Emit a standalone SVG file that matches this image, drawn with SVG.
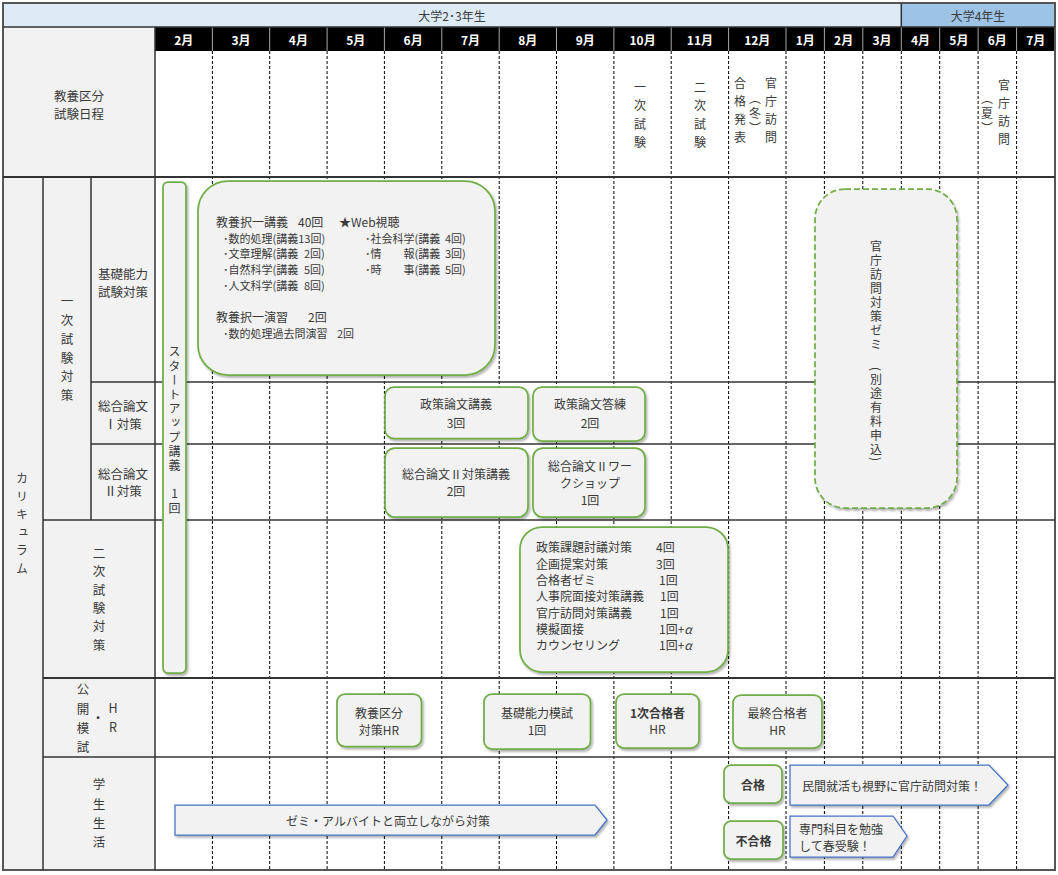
<svg xmlns="http://www.w3.org/2000/svg" width="1058" height="875" viewBox="0 0 1058 875">
<style>
.t{font-family:"Noto Sans CJK JP","Noto Sans",sans-serif;fill:#3a3a3a;dominant-baseline:central;font-size:12px}
.c{text-anchor:middle}
.v{writing-mode:vertical-rl;text-anchor:middle}
.up{text-orientation:upright}
.lab{font-size:12.5px}
.mon{fill:#fff;font-weight:bold;font-size:12px;text-anchor:middle}
.b{font-weight:bold}
.box{fill:#F2F2F2;stroke:#70AD47;stroke-width:1.75;filter:url(#sh)}
.boxd{fill:#F2F2F2;stroke:#70AD47;stroke-width:1.75;stroke-dasharray:6 3;filter:url(#sh)}
.arr{fill:#F2F2F2;stroke:#4472C4;stroke-width:1.25;filter:url(#sh)}
.dash{stroke:#000;stroke-width:1;stroke-dasharray:3 2}
.ln{stroke:#333;stroke-width:1.5;fill:none}
.hsep{stroke:#A6A6A6;stroke-width:1}
.sm{font-size:11px}
</style>
<defs>
<filter id="sh" x="-10%" y="-10%" width="130%" height="130%">
<feDropShadow dx="1.5" dy="2" stdDeviation="1.2" flood-color="#000" flood-opacity="0.3"/>
</filter>
</defs>
<rect width="1058" height="875" fill="#fff"/>
<g id="grid">
<rect x="3" y="3" width="898.3" height="24" fill="#DDEBF7"/>
<rect x="901.3" y="3" width="153.7" height="24" fill="#9DC3E6"/>
<rect x="155" y="27" width="900" height="24" fill="#000"/>
<rect x="3" y="27" width="152" height="150" fill="#F2F2F2"/>
<rect x="3" y="177" width="152" height="693" fill="#F2F2F2"/>
<g class="hsep">
<line x1="212.4" y1="27" x2="212.4" y2="51"/><line x1="269.7" y1="27" x2="269.7" y2="51"/><line x1="327.1" y1="27" x2="327.1" y2="51"/><line x1="384.4" y1="27" x2="384.4" y2="51"/><line x1="441.8" y1="27" x2="441.8" y2="51"/><line x1="499.2" y1="27" x2="499.2" y2="51"/><line x1="556.5" y1="27" x2="556.5" y2="51"/><line x1="613.9" y1="27" x2="613.9" y2="51"/><line x1="671.2" y1="27" x2="671.2" y2="51"/><line x1="728.6" y1="27" x2="728.6" y2="51"/><line x1="786" y1="27" x2="786" y2="51"/><line x1="824.4" y1="27" x2="824.4" y2="51"/><line x1="862.8" y1="27" x2="862.8" y2="51"/><line x1="901.3" y1="27" x2="901.3" y2="51"/><line x1="939.7" y1="27" x2="939.7" y2="51"/><line x1="978.1" y1="27" x2="978.1" y2="51"/><line x1="1016.6" y1="27" x2="1016.6" y2="51"/>
</g>
<g class="dash">
<line x1="212.4" y1="51" x2="212.4" y2="870"/><line x1="269.7" y1="51" x2="269.7" y2="870"/><line x1="327.1" y1="51" x2="327.1" y2="870"/><line x1="384.4" y1="51" x2="384.4" y2="870"/><line x1="441.8" y1="51" x2="441.8" y2="870"/><line x1="499.2" y1="51" x2="499.2" y2="870"/><line x1="556.5" y1="51" x2="556.5" y2="870"/><line x1="613.9" y1="51" x2="613.9" y2="870"/><line x1="671.2" y1="51" x2="671.2" y2="870"/><line x1="728.6" y1="51" x2="728.6" y2="870"/><line x1="786" y1="51" x2="786" y2="870"/><line x1="824.4" y1="51" x2="824.4" y2="870"/><line x1="862.8" y1="51" x2="862.8" y2="870"/><line x1="901.3" y1="51" x2="901.3" y2="870"/><line x1="939.7" y1="51" x2="939.7" y2="870"/><line x1="978.1" y1="51" x2="978.1" y2="870"/><line x1="1016.6" y1="51" x2="1016.6" y2="870"/>
</g>
<g class="ln">
<rect x="3" y="3" width="1052" height="867" stroke="#555" stroke-width="2"/>
<line x1="3" y1="27" x2="1055" y2="27"/>
<line x1="901.3" y1="3" x2="901.3" y2="27"/>
<line x1="3" y1="177" x2="1055" y2="177" stroke-width="2"/>
<line x1="91" y1="382" x2="1055" y2="382"/>
<line x1="91" y1="444" x2="1055" y2="444"/>
<line x1="43" y1="520" x2="1055" y2="520"/>
<line x1="43" y1="678" x2="1055" y2="678" stroke-width="2"/>
<line x1="43" y1="757" x2="1055" y2="757"/>
<line x1="155" y1="27" x2="155" y2="870"/>
<line x1="43" y1="177" x2="43" y2="870"/>
<line x1="91" y1="177" x2="91" y2="520"/>
</g>
</g>
<g id="headers">
<text class="t c" x="452" y="15" font-size="13">大学2･3年生</text>
<text class="t c" x="978" y="15" font-size="13">大学4年生</text>
<g class="t">
<text class="mon" x="183.7" y="39">2月</text><text class="mon" x="241" y="39">3月</text><text class="mon" x="298.4" y="39">4月</text><text class="mon" x="355.8" y="39">5月</text><text class="mon" x="413.1" y="39">6月</text><text class="mon" x="470.5" y="39">7月</text><text class="mon" x="527.8" y="39">8月</text><text class="mon" x="585.2" y="39">9月</text><text class="mon" x="642.6" y="39">10月</text><text class="mon" x="699.9" y="39">11月</text><text class="mon" x="757.3" y="39">12月</text><text class="mon" x="805.2" y="39">1月</text><text class="mon" x="843.6" y="39">2月</text><text class="mon" x="882" y="39">3月</text><text class="mon" x="920.5" y="39">4月</text><text class="mon" x="958.9" y="39">5月</text><text class="mon" x="997.3" y="39">6月</text><text class="mon" x="1035.8" y="39">7月</text>
</g>
</g>
<g id="row-labels">
<text class="t c lab" x="79" y="95.5">教養区分<tspan x="79" dy="17">試験日程</tspan></text>
<text class="t v" x="22" y="526" style="letter-spacing:6px">カリキュラム</text>
<text class="t v lab" x="67" y="351.6" style="letter-spacing:6.2px">一次試験対策</text>
<text class="t c lab" x="123" y="273.5">基礎能力<tspan x="123" dy="17">試験対策</tspan></text>
<text class="t c lab" x="123" y="405.5">総合論文<tspan x="123" dy="17">Ⅰ対策</tspan></text>
<text class="t c lab" x="123" y="473">総合論文<tspan x="123" dy="17">Ⅱ対策</tspan></text>
<text class="t v lab" x="99" y="602" style="letter-spacing:5.8px">二次試験対策</text>
<text class="t v lab" x="83" y="722" style="letter-spacing:6.8px">公開模試</text>
<text class="t c lab" x="98" y="717">・</text>
<text class="t v up lab" x="113" y="721" style="letter-spacing:6.5px">HR</text>
<text class="t v lab" x="99" y="817" style="letter-spacing:6.8px">学生生活</text>
</g>
<g id="schedule">
<text class="t v" x="640" y="118" font-size="13" style="letter-spacing:6.5px">一次試験</text>
<text class="t v" x="700" y="118" font-size="13" style="letter-spacing:6.5px">二次試験</text>
<text class="t v" x="740" y="113" font-size="13" style="letter-spacing:6px">合格発表</text>
<text class="t v" x="755" y="115" font-size="13" style="letter-spacing:3px">（冬）</text>
<text class="t v" x="771" y="113" font-size="13" style="letter-spacing:6px">官庁訪問</text>
<text class="t v" x="987" y="115" font-size="13" style="letter-spacing:3px">（夏）</text>
<text class="t v" x="1004" y="115" font-size="13" style="letter-spacing:6px">官庁訪問</text>
</g>
<g id="startup">
<rect class="box" x="163" y="182" width="23" height="491" rx="5"/>
<text class="t v up" x="174.5" y="431" style="letter-spacing:2.2px">スタートアップ講義 1回</text>
</g>
<g id="kyoyo-lecture">
<rect class="box" x="198" y="181" width="297" height="194" rx="30"/>
<text class="t" x="216" y="221" font-size="11">教養択一講義<tspan x="298">40回</tspan><tspan x="339">★Web視聴</tspan></text>
<text class="t sm" x="223" y="238">･数的処理(講義13回)</text>
<text class="t sm" x="223" y="253">･文章理解(講義<tspan x="304">2回)</tspan></text>
<text class="t sm" x="223" y="269">･自然科学(講義<tspan x="304">5回)</tspan></text>
<text class="t sm" x="223" y="285">･人文科学(講義<tspan x="304">8回)</tspan></text>
<text class="t sm" x="365" y="238">･社会科学(講義<tspan x="445">4回)</tspan></text>
<text class="t sm" x="365" y="253">･情<tspan x="403.5">報(講義</tspan><tspan x="445">3回)</tspan></text>
<text class="t sm" x="365" y="269">･時<tspan x="403.5">事(講義</tspan><tspan x="445">5回)</tspan></text>
<text class="t" x="216" y="316" font-size="11">教養択一演習<tspan x="308">2回</tspan></text>
<text class="t sm" x="223" y="333">･数的処理過去問演習<tspan x="337">2回</tspan></text>
</g>
<g id="seisaku-kogi">
<rect class="box" x="385" y="387" width="143" height="51.5" rx="9"/>
<text class="t c" x="456" y="403">政策論文講義<tspan x="456" dy="18.5">3回</tspan></text>
</g>
<g id="seisaku-toren">
<rect class="box" x="533" y="387" width="112" height="54" rx="9"/>
<text class="t c" x="590" y="403">政策論文答練<tspan x="590" dy="18.5">2回</tspan></text>
</g>
<g id="sogo2-kogi">
<rect class="box" x="385" y="448" width="143" height="69" rx="10"/>
<text class="t c" x="456" y="473">総合論文Ⅱ対策講義<tspan x="456" dy="17">2回</tspan></text>
</g>
<g id="sogo2-ws">
<rect class="box" x="533" y="448" width="112" height="69" rx="10"/>
<text class="t c" x="590" y="465">総合論文Ⅱワー<tspan x="590" dy="17">クショップ</tspan><tspan x="590" dy="16.5">1回</tspan></text>
</g>
<g id="niji-taisaku">
<rect class="box" x="520" y="527" width="208" height="145" rx="22"/>
<text class="t" x="536" y="546">政策課題討議対策<tspan x="656">4回</tspan><tspan x="536" dy="16.5">企画提案対策</tspan><tspan x="656">3回</tspan><tspan x="536" dy="16.5">合格者ゼミ</tspan><tspan x="659">1回</tspan><tspan x="536" dy="16">人事院面接対策講義</tspan><tspan x="660">1回</tspan><tspan x="536" dy="16.5">官庁訪問対策講義</tspan><tspan x="660">1回</tspan><tspan x="536" dy="16">模擬面接</tspan><tspan x="659">1回+</tspan><tspan font-style="italic">α</tspan><tspan x="536" dy="16.5">カウンセリング</tspan><tspan x="659">1回+</tspan><tspan font-style="italic">α</tspan></text>
</g>
<g id="kancho-zemi">
<rect class="boxd" x="815" y="189" width="142" height="319" rx="30"/>
<text class="t v" x="876" y="352" style="letter-spacing:2px">官庁訪問対策ゼミ　(別途有料申込)</text>
</g>
<g id="hr-kyoyo">
<rect class="box" x="337" y="694" width="84.5" height="52.5" rx="8"/>
<text class="t c" x="379" y="712">教養区分<tspan x="379" dy="16.5">対策HR</tspan></text>
</g>
<g id="moshi-kiso">
<rect class="box" x="484" y="694" width="106.5" height="55" rx="8"/>
<text class="t c" x="537" y="712.5">基礎能力模試<tspan x="537" dy="16.5">1回</tspan></text>
</g>
<g id="hr-1ji">
<rect class="box" x="616" y="694" width="83" height="54" rx="8"/>
<text class="t c" x="657.5" y="711.5"><tspan class="b">1次合格者</tspan><tspan x="657.5" dy="16.5">HR</tspan></text>
</g>
<g id="hr-saishu">
<rect class="box" x="733" y="695" width="89" height="53" rx="8"/>
<text class="t c" x="777.5" y="712.5">最終合格者<tspan x="777.5" dy="16.5">HR</tspan></text>
</g>
<g id="seminar-arrow">
<polygon class="arr" points="175,805 595,805 607,820 595,835 175,835"/>
<text class="t c" x="388" y="820">ゼミ・アルバイトと両立しながら対策</text>
</g>
<g id="gokaku">
<rect class="box" x="724" y="765" width="58" height="38" rx="7"/>
<text class="t c b" x="753" y="784.5">合格</text>
</g>
<g id="fugokaku">
<rect class="box" x="724" y="821" width="59" height="38" rx="7"/>
<text class="t c b" x="753.5" y="840">不合格</text>
</g>
<g id="gokaku-arrow">
<polygon class="arr" points="790,765 989,765 1008,785 989,805 790,805"/>
<text class="t" x="802" y="785">民間就活も視野に官庁訪問対策！</text>
</g>
<g id="fugokaku-arrow">
<polygon class="arr" points="790,816 893,816 907,836 893,857 790,857"/>
<text class="t" x="799" y="828">専門科目を勉強<tspan x="799" dy="17">して春受験！</tspan></text>
</g>
<g id="connectors"/>
</svg>
